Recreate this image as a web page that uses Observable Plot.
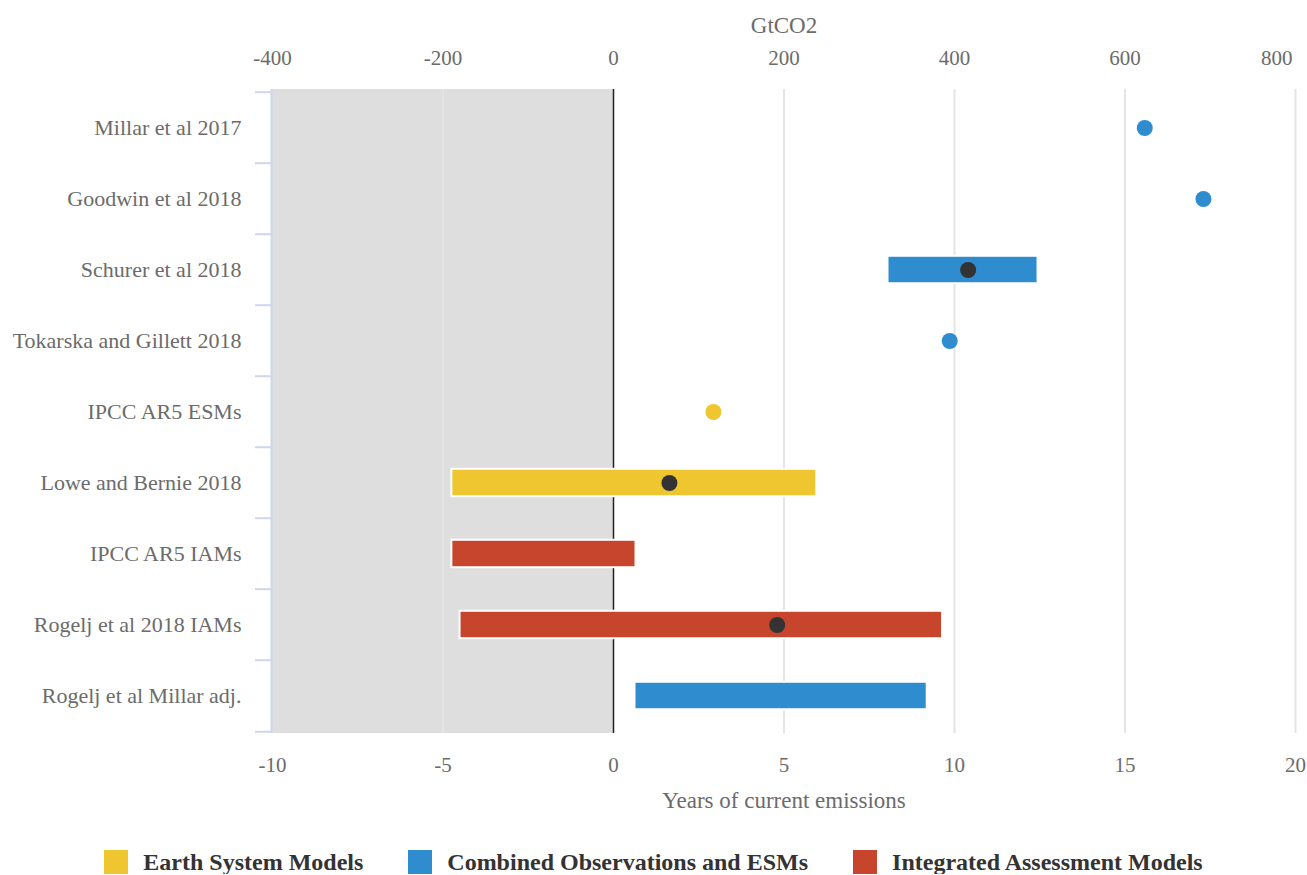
<!DOCTYPE html>
<html><head><meta charset="utf-8">
<script src="https://cdn.jsdelivr.net/npm/d3@7"></script>
<script src="https://cdn.jsdelivr.net/npm/@observablehq/plot@0.6"></script>
<style>
body{margin:0;background:#fff;font-family:"Liberation Serif","Times New Roman",serif;}
#legend{display:flex;justify-content:center;gap:45px;margin-top:20px;font-weight:bold;font-size:24px;color:#333;line-height:24px;}
.item{display:flex;align-items:center;gap:15px}
.sw{width:24px;height:24px;flex:none}
</style></head><body><div id="chart"></div><div id="legend"></div>
<script>
const studies = ["Millar et al 2017", "Goodwin et al 2018", "Schurer et al 2018", "Tokarska and Gillett 2018", "IPCC AR5 ESMs", "Lowe and Bernie 2018", "IPCC AR5 IAMs", "Rogelj et al 2018 IAMs", "Rogelj et al Millar adj."];
const groups = ["Combined Observations and ESMs", "Combined Observations and ESMs", "Combined Observations and ESMs", "Combined Observations and ESMs", "Earth System Models", "Earth System Models", "Integrated Assessment Models", "Integrated Assessment Models", "Combined Observations and ESMs"];
const lows = [null, null, 8.05, null, null, -4.74, -4.74, -4.5, 0.63];
const highs = [null, null, 12.45, null, null, 5.96, 0.66, 9.65, 9.2];
const centrals = [15.58, 17.3, 10.4, 9.86, 2.93, 1.64, null, 4.8, null];

const legendGroups = ["Earth System Models", "Combined Observations and ESMs", "Integrated Assessment Models"];
const legendColors = ["#efc530", "#2e8ccf", "#c8452d"];

const yearTicks = [-10, -5, 0, 5, 10, 15, 20];
const gtTicks = [-400, -200, 0, 200, 400, 600, 800];
const gtPerYear = 40;
const shade = [{from: -10, to: 0}];

const rows = studies.map((s, i) => ({study: s, group: groups[i], low: lows[i], high: highs[i], central: centrals[i]}));
const bars = rows.filter(d => d.low != null);
const soloDots = rows.filter(d => d.low == null && d.central != null);
const midDots = rows.filter(d => d.low != null && d.central != null);

const W = 1307, H = 830, MT = 89, MB = 97;
const bw = (H - MT - MB) / studies.length;
const barH = 28;
const inset = (bw - barH) / 2;
const axisBlue = "#cdd6eb";
const hy = v => String(Math.round(v));

const chart = Plot.plot({
  width: W, height: H,
  marginLeft: 272, marginRight: 12, marginTop: MT, marginBottom: MB,
  style: {fontFamily: "'Liberation Serif', 'Times New Roman', serif", fontSize: "21px", color: "#6b6b6b", background: "white", overflow: "visible"},
  x: {domain: [-10, 20]},
  y: {domain: studies, padding: 0},
  color: {domain: legendGroups, range: legendColors},
  marks: [
    Plot.rect(shade, {x1: "from", x2: "to", fill: "#dedede"}),
    Plot.gridX(yearTicks.filter(t => t !== 0 && t !== -10), {stroke: "#e4e4e4", strokeWidth: 2, strokeOpacity: 1}),
    Plot.ruleX([0], {stroke: "#222", strokeWidth: 1.5}),
    Plot.ruleX([-10], {stroke: axisBlue, strokeWidth: 2, dx: -1}),
    Plot.ruleY(studies, {y: d => d, x1: () => -10.5, x2: () => -10, dy: -bw / 2, stroke: axisBlue, strokeWidth: 2}),
    Plot.ruleY(studies.slice(-1), {y: d => d, x1: () => -10.5, x2: () => -10, dy: bw / 2, stroke: axisBlue, strokeWidth: 2}),
    Plot.barX(bars, {y: "study", x1: "low", x2: "high", fill: "group", stroke: "white", strokeWidth: 2, insetTop: inset, insetBottom: inset}),
    Plot.dot(soloDots, {x: "central", y: "study", fill: "group", r: 8}),
    Plot.dot(midDots, {x: "central", y: "study", fill: "#333", r: 8}),
    Plot.axisY({tickSize: 0, tickPadding: 31, fontSize: 22, label: null}),
    Plot.axisX(yearTicks, {anchor: "bottom", tickSize: 0, tickPadding: 24, tickFormat: hy, label: null}),
    Plot.axisX(gtTicks.slice(0, -1).map(g => g / gtPerYear), {anchor: "top", tickSize: 0, tickPadding: 25, tickFormat: d => hy(d * gtPerYear), label: null}),
    Plot.text(gtTicks.slice(-1), {x: g => g / gtPerYear, text: g => String(g), frameAnchor: "top", lineAnchor: "middle", dy: -31, dx: -3, textAnchor: "end", fontSize: 21}),
    Plot.text(["GtCO2"], {text: d => d, frameAnchor: "top", lineAnchor: "middle", dy: -64, fontSize: 23}),
    Plot.text(["Years of current emissions"], {text: d => d, frameAnchor: "bottom", lineAnchor: "middle", dy: 67, fontSize: 23})
  ]
});
document.getElementById("chart").append(chart);

const lg = document.getElementById("legend");
legendGroups.forEach((g, i) => {
  const it = document.createElement("div");
  it.className = "item";
  const sw = document.createElement("div");
  sw.className = "sw";
  sw.style.background = legendColors[i];
  const t = document.createElement("span");
  t.textContent = g;
  it.append(sw, t);
  lg.append(it);
});
</script>
</body></html>
